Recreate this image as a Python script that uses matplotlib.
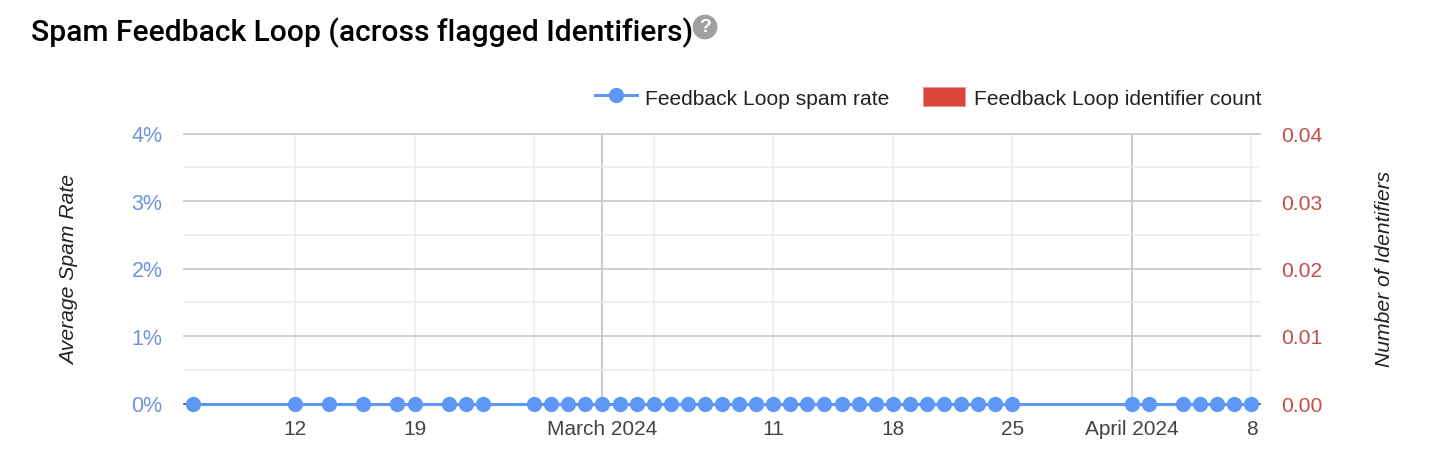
import pandas as pd
import matplotlib
matplotlib.use('Agg')
import matplotlib.pyplot as plt
from matplotlib.lines import Line2D
from matplotlib.patches import Patch

plt.rcParams['font.family'] = ['Liberation Sans', 'DejaVu Sans']

# days that have a report, everything else is missing
dates = ['2024-02-06', '2024-02-12', '2024-02-14', '2024-02-16', '2024-02-18', '2024-02-19',
         '2024-02-21', '2024-02-22', '2024-02-23', '2024-02-26', '2024-02-27', '2024-02-28',
         '2024-02-29', '2024-03-01', '2024-03-02', '2024-03-03', '2024-03-04', '2024-03-05',
         '2024-03-06', '2024-03-07', '2024-03-08', '2024-03-09', '2024-03-10', '2024-03-11',
         '2024-03-12', '2024-03-13', '2024-03-14', '2024-03-15', '2024-03-16', '2024-03-17',
         '2024-03-18', '2024-03-19', '2024-03-20', '2024-03-21', '2024-03-22', '2024-03-23',
         '2024-03-24', '2024-03-25', '2024-04-01', '2024-04-02', '2024-04-04', '2024-04-05',
         '2024-04-06', '2024-04-07', '2024-04-08']
spam_rate = [0] * len(dates)
identifier_count = [0] * len(dates)

week_lines = ['2024-02-12', '2024-02-19', '2024-02-26', '2024-03-04', '2024-03-11',
              '2024-03-18', '2024-03-25', '2024-04-08']
month_lines = ['2024-03-01', '2024-04-01']
x_tick_dates = ['2024-02-12', '2024-02-19', '2024-03-01', '2024-03-11', '2024-03-18',
                '2024-03-25', '2024-04-01', '2024-04-08']
x_tick_labels = ['12', '19', 'March 2024', '11', '18', '25', 'April 2024', '8']
y_left = [0, 1, 2, 3, 4]
y_left_labels = ['0%', '1%', '2%', '3%', '4%']
y_left_minor = [0.5, 1.5, 2.5, 3.5]
y_right = [0, 0.01, 0.02, 0.03, 0.04]
y_right_labels = ['0.00', '0.01', '0.02', '0.03', '0.04']

W, H = 1431, 477
left, right, top, bottom = 184, 1260, 134.5, 404.5
blue = '#5e97f6'
red = '#db4437'

fig = plt.figure(figsize=(W / 100, H / 100), dpi=100)
ax = fig.add_axes([left / W, 1 - bottom / H, (right - left) / W, (bottom - top) / H])
ax2 = ax.twinx()
ax.set_zorder(ax2.get_zorder() + 1)
ax.patch.set_visible(False)

x = pd.to_datetime(dates)
ax2.bar(x, identifier_count, width=0.8, color=red, linewidth=0)
ax.plot(x, spam_rate, color=blue, linewidth=2.2, marker='o', markersize=11,
        markeredgewidth=0, clip_on=False, zorder=5)

ax.set_xlim(pd.Timestamp('2024-02-05 12:00'), pd.Timestamp('2024-04-08 12:00'))
ax.set_ylim(0, 4)
ax2.set_ylim(0, 0.04)

# grid drawn by hand since the weeks and months have different weights
for d in week_lines:
    ax.axvline(pd.Timestamp(d), color='#ebebeb', linewidth=1.1, zorder=1)
for d in month_lines:
    ax.axvline(pd.Timestamp(d), color='#cccccc', linewidth=1.5, zorder=1)
for v in y_left_minor:
    ax.axhline(v, color='#ebebeb', linewidth=1.1, zorder=1)
for v in y_left[1:]:
    ax.axhline(v, color='#cccccc', linewidth=1.3, zorder=1.5, clip_on=False)
ax.axhline(0, color='#333333', linewidth=1.1, zorder=2, clip_on=False)

for s in ['top', 'left', 'right', 'bottom']:
    ax.spines[s].set_visible(False)
    ax2.spines[s].set_visible(False)

ax.set_xticks(pd.to_datetime(x_tick_dates))
ax.set_xticklabels(x_tick_labels, fontsize=15, color='#444444')
ax.tick_params(axis='x', which='both', length=0, pad=11.5)

ax.set_yticks(y_left)
ax.set_yticklabels(y_left_labels, fontsize=15.5, color='#6d94d8')
ax.tick_params(axis='y', length=0, pad=15.5)
ax2.set_yticks(y_right)
ax2.set_yticklabels(y_right_labels, fontsize=15.2, color='#c0504d')
ax2.tick_params(axis='y', length=0, pad=15)

fig.text(70 / W, 1 - 270 / H, 'Average Spam Rate', rotation=90, fontsize=15.2, style='italic',
         color='#222222', ha='center', va='center')
fig.text(1384 / W, 1 - 269 / H, 'Number of Identifiers', rotation=90, fontsize=15.2, style='italic',
         color='#222222', ha='center', va='center')

fig.text(31 / W, 1 - 33 / H, 'Spam Feedback Loop (across flagged Identifiers)',
         family='Roboto', weight='medium', fontsize=21.6, color='black', ha='left', va='center')
fig.text(705 / W, 1 - 28 / H, '?', fontsize=14, weight='bold', color='white', ha='center', va='center',
         bbox=dict(boxstyle='circle,pad=0.2', fc='#a0a0a0', ec='none'))

handles = [Line2D([], [], color=blue, linewidth=2.2, marker='o', markersize=11, markeredgewidth=0),
           Patch(facecolor=red, edgecolor='#e8988f', linewidth=0.7)]
ax.legend(handles, ['Feedback Loop spam rate', 'Feedback Loop identifier count'],
          ncols=2, frameon=False, fontsize=15.1, handlelength=2.0, handleheight=1.0,
          handletextpad=0.4, columnspacing=1.62, borderpad=0, borderaxespad=0,
          loc='lower right', bbox_to_anchor=(1.001, 1.096), labelcolor='#222222')

fig.savefig('out.png', dpi=100)
